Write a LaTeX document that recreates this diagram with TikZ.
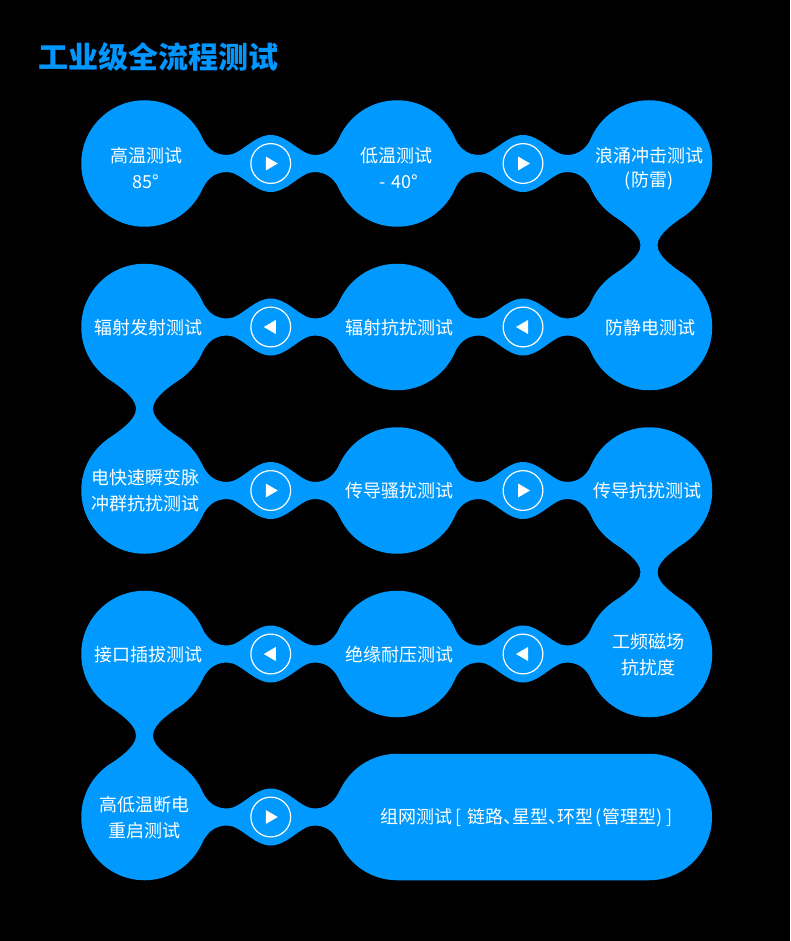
\documentclass[tikz,border=0pt]{standalone}
\usepackage{fontspec}
\setmainfont{Noto Sans CJK SC}
\usetikzlibrary{calc,shapes.misc}
\definecolor{blobblue}{RGB}{0,153,255}
\definecolor{titleblue}{RGB}{0,150,255}
\tikzset{
  blob/.style={circle,fill=blobblue,draw=none,minimum size=126.5pt,inner sep=0pt},
  pill/.style={rounded rectangle,fill=blobblue,draw=none,minimum height=126.5pt,minimum width=378pt,inner sep=0pt},
  lab/.style={text=white,font=\fontsize{18pt}{18pt}\selectfont,inner sep=0pt,align=center,yshift=-0.8pt},
  ring/.style={circle,draw=white,line width=1.2pt,fill=none,minimum size=39.8pt,inner sep=0pt},
}
% horizontal link between two big shapes, with a button in the middle
\newcommand{\linkH}[4]{%
  \coordinate (#3) at ($(#1)!.5!(#2)$);
  \begin{scope}[shift={(#3)}]
    \fill[blobblue] (-69.75,-27.9)
      .. controls (-64.45,-17.1) and (-57.75,-8.5) .. (-43.5,-8.5)
      .. controls (-30,-8.5) and (-17,-28.5) .. (0,-28.5)
      .. controls (17,-28.5) and (30,-8.5) .. (43.5,-8.5)
      .. controls (57.75,-8.5) and (64.45,-17.1) .. (69.75,-27.9)
      -- (69.75,27.9)
      .. controls (64.45,17.1) and (57.75,8.5) .. (43.5,8.5)
      .. controls (30,8.5) and (17,28.5) .. (0,28.5)
      .. controls (-17,28.5) and (-30,8.5) .. (-43.5,8.5)
      .. controls (-57.75,8.5) and (-64.45,17.1) .. (-69.75,27.9) -- cycle;
    \node[ring] (#3r) at (0,0) {};
    \fill[white] (#4*-5,-7) -- (#4*-5,7) -- (#4*7,0) -- cycle;
  \end{scope}}
% vertical link between two big circles
\newcommand{\linkV}[3]{%
  \coordinate (#3) at ($(#1)!.5!(#2)$);
  \begin{scope}[shift={(#3)}]
    \fill[blobblue] (-38,-31.5)
      .. controls (-26.8,-23) and (-8.5,-12) .. (-8.5,0)
      .. controls (-8.5,12) and (-26.8,23) .. (-38,31.5)
      -- (38,31.5)
      .. controls (26.8,23) and (8.5,12) .. (8.5,0)
      .. controls (8.5,-12) and (26.8,-23) .. (38,-31.5) -- cycle;
  \end{scope}}
\begin{document}
\begin{tikzpicture}[x=1pt,y=-1pt]
\useasboundingbox (0,0) rectangle (790,941);
\fill[black] (0,0) rectangle (790,941);
\node[text=titleblue,font=\fontsize{30pt}{30pt}\selectfont\bfseries,inner sep=0pt] (title) at (158.5,57) {工业级全流程测试};
% big circles
\node[blob] (a1) at (144.5,163.5) {};
\node[blob] (a2) at (397,163.5) {};
\node[blob] (a3) at (649,163.5) {};
\node[blob] (b1) at (144.5,327) {};
\node[blob] (b2) at (397,327) {};
\node[blob] (b3) at (649,327) {};
\node[blob] (c1) at (144.5,490.5) {};
\node[blob] (c2) at (397,490.5) {};
\node[blob] (c3) at (649,490.5) {};
\node[blob] (d1) at (144.5,654) {};
\node[blob] (d2) at (397,654) {};
\node[blob] (d3) at (649,654) {};
\node[blob] (e1) at (144.5,817) {};
\node[pill] (e2) at (523,817) {};
\coordinate (e2l) at (397,817);
% links
\linkH{a1}{a2}{la}{1}
\linkH{a2}{a3}{lb}{1}
\linkH{b1}{b2}{lc}{-1}
\linkH{b2}{b3}{ld}{-1}
\linkH{c1}{c2}{le}{1}
\linkH{c2}{c3}{lf}{1}
\linkH{d1}{d2}{lg}{-1}
\linkH{d2}{d3}{lh}{-1}
\linkH{e1}{e2l}{li}{1}
\linkV{a3}{b3}{va}
\linkV{b1}{c1}{vb}
\linkV{c3}{d3}{vc}
\linkV{d1}{e1}{vd}
% labels
\node[lab] (t1) at (146,155) {高温测试};
\node[lab] (t1b) at (146,181) {85°};
\node[lab] (t2) at (396,155) {低温测试};
\node[lab] (t2b) at (398.5,181) {-\hspace{1.5pt} 40°};
\node[lab] (t3) at (649,155) {浪涌冲击测试};
\node[lab] (t3b) at (649,180) {(防雷)};
\node[lab] (t4) at (148,327) {辐射发射测试};
\node[lab] (t5) at (399,327) {辐射抗扰测试};
\node[lab] (t6) at (650,327) {防静电测试};
\node[lab] (t7) at (145,477) {电快速瞬变脉};
\node[lab] (t7b) at (145,503) {冲群抗扰测试};
\node[lab] (t8) at (399,490) {传导骚扰测试};
\node[lab] (t9) at (647,490) {传导抗扰测试};
\node[lab] (t10) at (148,654) {接口插拔测试};
\node[lab] (t11) at (399,654) {绝缘耐压测试};
\node[lab] (t12) at (648,641) {工频磁场};
\node[lab] (t12b) at (648,667) {抗扰度};
\node[lab] (t13) at (144,804) {高低温断电};
\node[lab] (t13b) at (144,830) {重启测试};
\node[lab] (t14) at (526.5,817) {组网测试\hspace{3pt}[\hspace{6pt}链路、\hspace{-9pt}星型、\hspace{-9pt}环型\hspace{2pt}(管理型)\hspace{4pt}]};
\end{tikzpicture}
\end{document}
